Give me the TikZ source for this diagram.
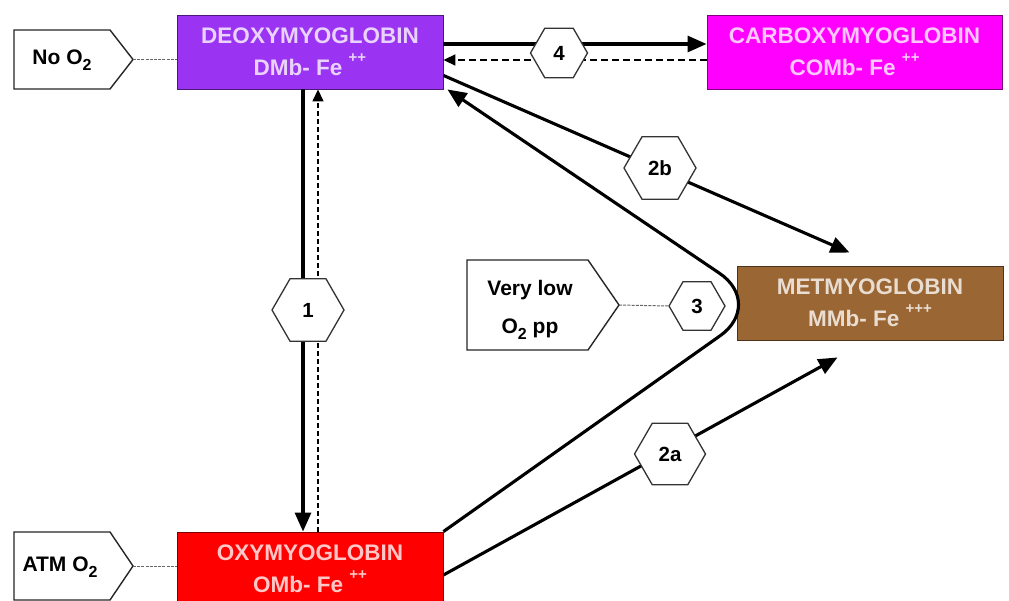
\documentclass[tikz,border=0pt]{standalone}
\usepackage{fontspec}
\setmainfont{Liberation Sans}
\usetikzlibrary{arrows.meta,shapes.geometric}
\definecolor{deoxy}{HTML}{9B33F2}
\definecolor{carboxy}{HTML}{FF00FF}
\definecolor{metmb}{HTML}{9A6633}
\definecolor{oxy}{HTML}{FF0000}
\newcommand\supp[1]{\raisebox{0.6em}{\fontsize{15}{15}\selectfont #1}}
\newcommand\subb[1]{\raisebox{-0.28em}{\fontsize{16}{16}\selectfont #1}}
\begin{document}
\begin{tikzpicture}[x=1pt,y=-1pt,
  mbox/.style={draw=#1!50!black, line width=0.9pt, fill=#1, text=white!78!#1,
    minimum width=266pt, minimum height=74pt, inner sep=0pt, align=center,
    font=\bfseries\fontsize{22.5}{32}\selectfont},
  pent/.style={draw=black!85, line width=1.4pt, fill=white},
  lbl/.style={align=center, inner sep=0pt, font=\bfseries\fontsize{21}{38}\selectfont},
  hexa/.style={regular polygon, regular polygon sides=6, draw=black!80, line width=1.3pt,
    fill=white, inner sep=0pt, font=\bfseries\fontsize{20.5}{20.5}\selectfont},
  sarr/.style={line width=3.1pt, -{Triangle[length=19pt,width=16pt]}},
  darr/.style={line width=1.8pt, dash pattern=on 7pt off 4pt, -{Triangle[length=12pt,width=11pt]}},
  varr/.style={line width=1.4pt, dash pattern=on 5pt off 3pt, -{Triangle[length=12pt,width=11pt]}},
  conn/.style={draw=black!60, line width=1pt, dash pattern=on 3pt off 1.2pt}]
\fill[white] (0,0) rectangle (1009,601);
\useasboundingbox (0,0) rectangle (1009,601);

% boxes
\node[mbox=deoxy] (DMb) at (310,52) {DEOXYMYOGLOBIN\\DMb- Fe \supp{++}};
\node[mbox=carboxy, minimum width=295pt] (COMb) at (854.5,52) {CARBOXYMYOGLOBIN\\COMb- Fe \supp{++}};
\node[mbox=metmb] (MMb) at (870,303) {METMYOGLOBIN\\MMb- Fe \supp{+++}};
\node[mbox=oxy] (OMb) at (310,569) {OXYMYOGLOBIN\\OMb- Fe \supp{++}};

% condition pentagons
\draw[pent] (14,30) -- (110,30) -- (133,59.5) -- (110,89) -- (14,89) -- cycle;
\node[lbl] (noO2) at (62,60) {No O\subb{2}};
\coordinate (noO2tip) at (133,59.5);

\draw[pent] (14,532) -- (110,532) -- (133,566) -- (110,600) -- (14,600) -- cycle;
\node[lbl] (atmO2) at (60,567) {ATM O\subb{2}};
\coordinate (atmtip) at (133,566);

\draw[pent] (467,260) -- (588,260) -- (619,305) -- (588,350) -- (467,350) -- cycle;
\node[lbl] (vlow) at (530,310) {Very low\\O\subb{2} pp};
\coordinate (vltip) at (619,305);

% free ends
\coordinate (m2b) at ([xshift=113pt,yshift=13pt]MMb.north west);
\coordinate (m2a) at ([xshift=101pt,yshift=-17pt]MMb.south west);
\coordinate (bend) at (765,304);

% connectors
\draw[sarr] ([xshift=-7pt]DMb.south) -- ([xshift=-7pt]OMb.north);
\draw[varr] ([xshift=8pt]OMb.north) -- ([xshift=8pt]DMb.south);
\draw[sarr] ([yshift=8pt]DMb.east) -- ([yshift=8pt]COMb.west);
\draw[darr] ([yshift=-8pt]COMb.west) -- ([yshift=-8pt]DMb.east);
\draw[sarr] ([yshift=14pt]DMb.south east) -- (m2b);
\draw[sarr] ([yshift=-6pt]OMb.east) -- (m2a);
\draw[sarr, rounded corners=55pt] (OMb.north east) -- (bend) -- ([xshift=4pt]DMb.south east);

% hexagon labels
\node[hexa, minimum size=72pt] (h1) at (308,310) {1};
\node[hexa, minimum size=72pt] (h2b) at (660,168) {2b};
\node[hexa, minimum size=71pt] (h2a) at (670,454) {2a};
\node[hexa, minimum size=57pt] (h4) at (559,53) {4};
\node[hexa, minimum size=56pt] (h3) at (697,306) {3};

\draw[conn] (noO2tip) -- (noO2tip -| DMb.west);
\draw[conn] (atmtip) -- (atmtip -| OMb.west);
\draw[conn] (vltip) -- (h3.west);
\end{tikzpicture}
\end{document}
